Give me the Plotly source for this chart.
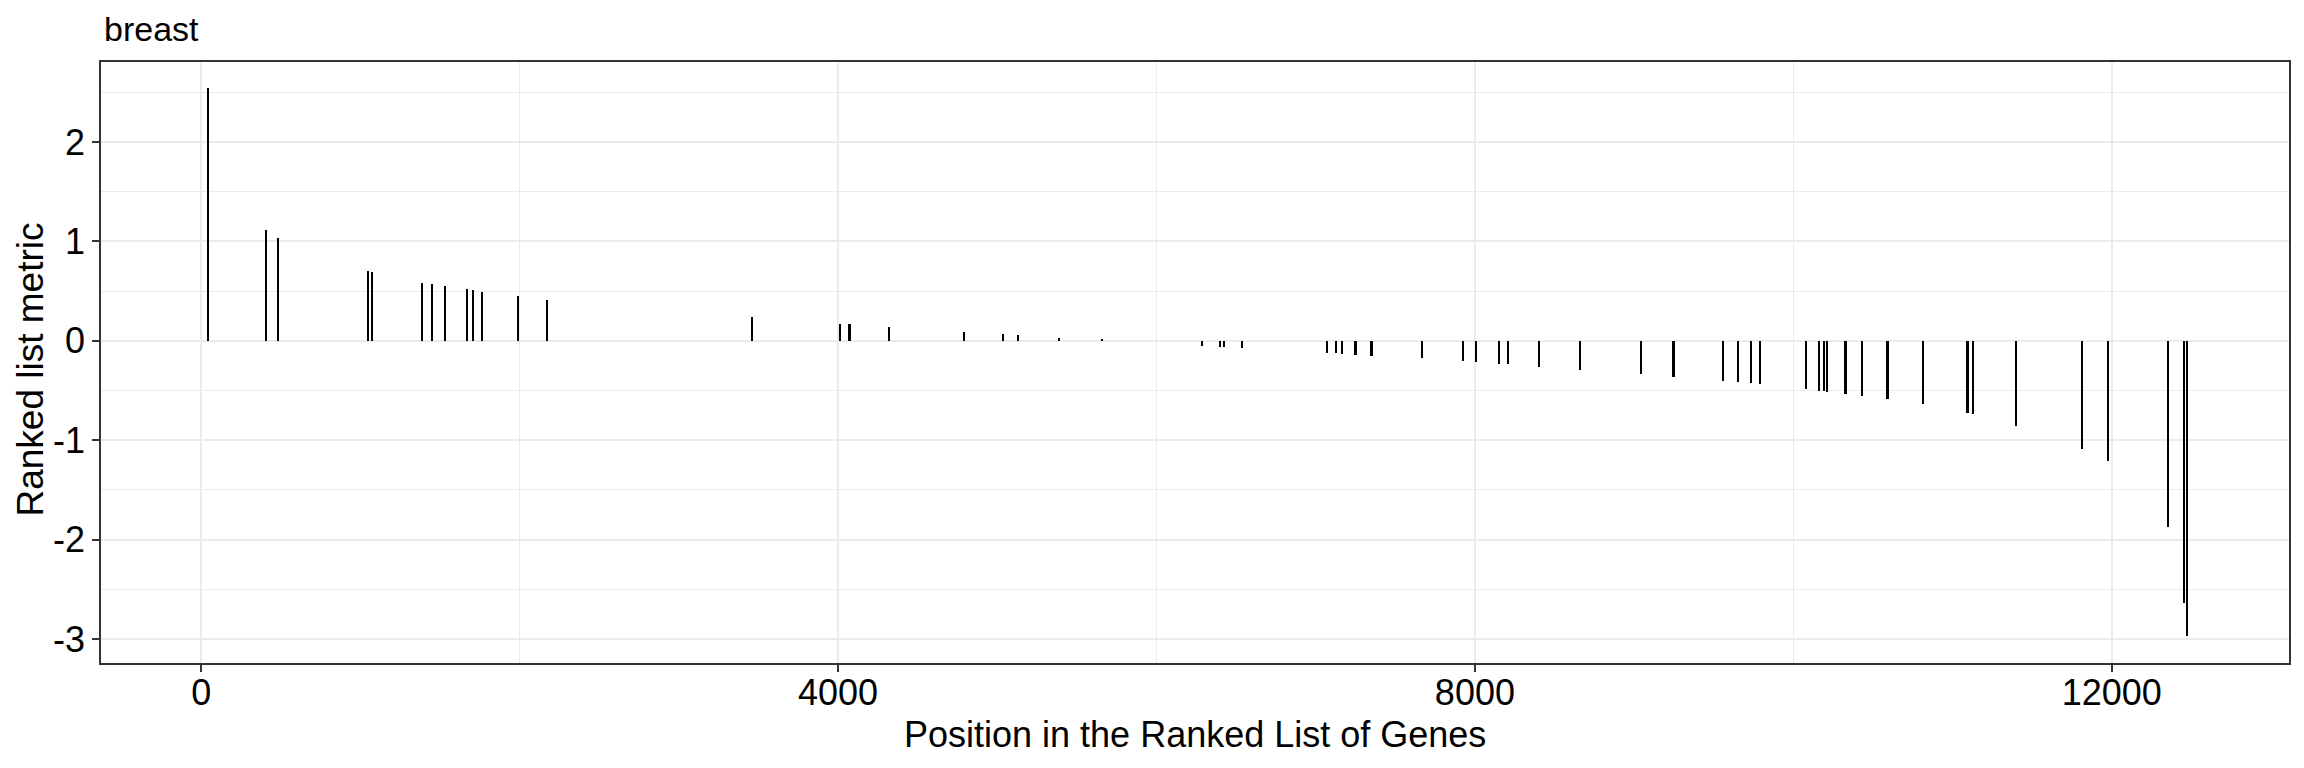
import plotly.graph_objects as go

# Gene positions in the ranked list and their ranked-list metric values
positions = [46, 410, 485, 1045, 1076, 1390, 1447, 1529, 1670, 1710, 1767, 1993, 2175,
             3462, 4012, 4066, 4073, 4322, 4792, 5038, 5132, 5390, 5655,
             6288, 6397, 6427, 6540, 7071, 7127, 7167, 7246, 7254, 7347, 7355,
             7669, 7927, 8008, 8153, 8210, 8405, 8662, 9045, 9242, 9250,
             9559, 9653, 9735, 9791, 10080, 10162, 10193, 10212, 10323, 10331,
             10432, 10587, 10595, 10815, 11089, 11097, 11129, 11399, 11814,
             11977, 12354, 12455, 12474]
metric = [2.54, 1.11, 1.03, 0.70, 0.69, 0.58, 0.57, 0.55, 0.52, 0.51, 0.49, 0.45, 0.41,
          0.238, 0.168, 0.168, 0.166, 0.138, 0.087, 0.067, 0.06, 0.03, 0.008,
          -0.05, -0.06, -0.06, -0.07, -0.12, -0.12, -0.13, -0.14, -0.14, -0.15, -0.15,
          -0.17, -0.20, -0.21, -0.23, -0.23, -0.26, -0.29, -0.33, -0.36, -0.36,
          -0.41, -0.42, -0.43, -0.44, -0.49, -0.51, -0.51, -0.52, -0.54, -0.54,
          -0.56, -0.59, -0.59, -0.64, -0.73, -0.73, -0.74, -0.855, -1.09,
          -1.21, -1.87, -2.64, -2.97]

x_ticks = [0, 4000, 8000, 12000]
x_tick_labels = ["0", "4000", "8000", "12000"]
y_ticks = [-3, -2, -1, 0, 1, 2]
y_tick_labels = ["-3", "-2", "-1", "0", "1", "2"]

title_text = "breast"
x_title = "Position in the Ranked List of Genes"
y_title = "Ranked list metric"

FONT = "Liberation Sans, Arial, sans-serif"
GRID = "#EBEBEB"
AXC = "#333333"

fig = go.Figure()
fig.add_trace(go.Bar(
    x=positions, y=metric, width=12.6,
    marker=dict(color="black", line=dict(width=0)),
    showlegend=False, hoverinfo="x+y",
))

W, H = 2304, 768
L, R, T, B = 100.5, 2289.0, 61.7, 663.3
pw, ph = R - L, B - T

def px_x(p):
    return (p - L) / pw

def px_y(p):
    return (B - p) / ph

fig.update_layout(
    width=W, height=H,
    margin=dict(l=L, r=W - R, t=T, b=H - B, pad=0, autoexpand=False),
    paper_bgcolor="white", plot_bgcolor="white",
    bargap=0,
    font=dict(family=FONT, color="black"),
    xaxis=dict(
        range=[-629, 13113], tickvals=x_ticks, ticktext=x_tick_labels,
        showgrid=True, gridcolor=GRID, gridwidth=1.7, zeroline=False,
        showline=True, mirror=True, linecolor=AXC, linewidth=1.6,
        ticks="outside", ticklen=7, tickwidth=1.6, tickcolor=AXC,
        ticklabelstandoff=-10, automargin=False,
        tickfont=dict(size=36, family=FONT, color="black"),
        minor=dict(dtick=2000, tick0=0, showgrid=True, gridcolor=GRID, gridwidth=1, ticks=""),
    ),
    yaxis=dict(
        range=[-3.242, 2.804], tickvals=y_ticks, ticktext=y_tick_labels,
        showgrid=True, gridcolor=GRID, gridwidth=1.7, zeroline=False,
        showline=True, mirror=True, linecolor=AXC, linewidth=1.6,
        ticks="outside", ticklen=7, tickwidth=1.6, tickcolor=AXC,
        automargin=False,
        tickfont=dict(size=36, family=FONT, color="black"),
        minor=dict(dtick=0.5, tick0=0, showgrid=True, gridcolor=GRID, gridwidth=1, ticks=""),
    ),
    annotations=[
        dict(text=title_text, xref="paper", yref="paper", x=px_x(102), y=px_y(28.9),
             xanchor="left", yanchor="middle", showarrow=False,
             font=dict(size=34, family=FONT, color="black")),
        dict(text=x_title, xref="paper", yref="paper", x=0.5, y=px_y(734.5),
             xanchor="center", yanchor="middle", showarrow=False,
             font=dict(size=36, family=FONT, color="black")),
        dict(text=y_title, xref="paper", yref="paper", x=px_x(30), y=px_y(370),
             xanchor="center", yanchor="middle", textangle=-90, showarrow=False,
             font=dict(size=37, family=FONT, color="black")),
    ],
)

fig.write_html(
    "out.html",
    config={"displayModeBar": False},
    post_script="document.body.style.margin='0px';document.body.style.padding='0px';",
)
